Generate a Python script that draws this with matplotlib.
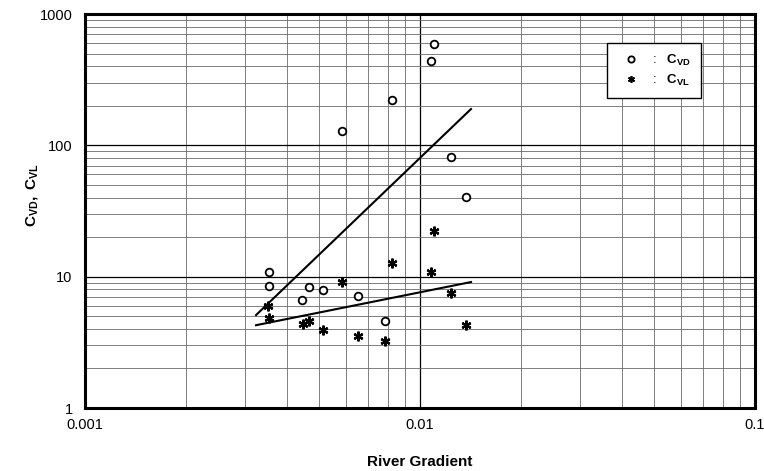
import matplotlib
matplotlib.use("Agg")
import matplotlib.pyplot as plt
from matplotlib.lines import Line2D
from matplotlib.ticker import LogLocator, FixedLocator, FixedFormatter, NullFormatter

plt.rcParams['font.family'] = ['Liberation Sans', 'DejaVu Sans']
plt.rcParams['mathtext.fontset'] = 'custom'
plt.rcParams['mathtext.rm'] = 'Liberation Sans'
plt.rcParams['mathtext.it'] = 'Liberation Sans'
plt.rcParams['mathtext.bf'] = 'Liberation Sans:bold'

# Datos
grad_vd = [0.01101, 0.01079, 0.00824, 0.00585, 0.01239, 0.01371, 0.00354,
           0.00354, 0.00467, 0.00513, 0.00445, 0.00653, 0.00787]
c_vd = [590, 438, 221, 128, 81.5, 40.4, 10.8, 8.47, 8.34, 7.9, 6.64, 7.1, 4.59]

grad_vl = [0.01101, 0.00824, 0.01079, 0.00585, 0.01239, 0.00352, 0.00354,
           0.00448, 0.00467, 0.00513, 0.00653, 0.00787, 0.01371]
c_vl = [22.2, 12.7, 10.8, 9.1, 7.5, 5.97, 4.84, 4.36, 4.6, 3.92, 3.53, 3.24, 4.27]

# Rectas de ajuste (extremos)
fit_x = [0.00324, 0.0142]
fit_vd = [5.1, 189]
fit_vl = [4.27, 9.1]

x_ticks = [0.001, 0.01, 0.1]
x_labels = ['0.001', '0.01', '0.1']
y_ticks = [1, 10, 100, 1000]
y_labels = ['1', '10', '100', '1000']

fig = plt.figure(figsize=(7.64, 4.71), dpi=100)
ax = fig.add_axes([85 / 764, 1 - 408 / 471, 670 / 764, 394 / 471])
ax.set_xscale('log')
ax.set_yscale('log')
ax.set_xlim(0.001, 0.1)
ax.set_ylim(1, 1000)

# Rejilla tipo papel log-log
ax.grid(which='major', color='black', lw=0.9)
ax.grid(which='minor', color='#6a6a6a', lw=0.6)
ax.set_axisbelow(True)

ax.plot(grad_vd, c_vd, ls='none', marker='o', mfc='white', mec='black',
        mew=1.3, ms=5.5)
ax.plot(grad_vl, c_vl, ls='none', marker=(6, 2, 0), color='black',
        mew=1.6, ms=7)
ax.plot(fit_x, fit_vd, color='black', lw=1.5)
ax.plot(fit_x, fit_vl, color='black', lw=1.5)

ax.xaxis.set_major_locator(FixedLocator(x_ticks))
ax.xaxis.set_major_formatter(FixedFormatter(x_labels))
ax.yaxis.set_major_locator(FixedLocator(y_ticks))
ax.yaxis.set_major_formatter(FixedFormatter(y_labels))
ax.xaxis.set_minor_locator(LogLocator(base=10, subs=range(2, 10)))
ax.yaxis.set_minor_locator(LogLocator(base=10, subs=range(2, 10)))
ax.xaxis.set_minor_formatter(NullFormatter())
ax.yaxis.set_minor_formatter(NullFormatter())
ax.tick_params(which='both', length=0)
ax.tick_params(axis='x', pad=7, labelsize=10.5)
ax.tick_params(axis='y', pad=9, labelsize=10.5)

for s in ax.spines.values():
    s.set_linewidth(2.2)
    s.set_color('black')

ax.set_xlabel('River Gradient', fontsize=11, fontweight='bold', labelpad=17)
ax.set_ylabel(r'$\mathbf{C_{VD},\ C_{VL}}$', fontsize=11, labelpad=14)
ax.yaxis.set_label_coords(-0.067, 0.54)

handles = [
    Line2D([], [], ls='none', marker='o', mfc='white', mec='black', mew=1.3, ms=4.5),
    Line2D([], [], ls='none', marker=(6, 2, 0), color='black', mew=1.2, ms=5),
]
leg = ax.legend(handles, [r':   $\mathbf{C_{VD}}$', r':   $\mathbf{C_{VL}}$'],
                loc='upper left', bbox_to_anchor=(0.779, 0.926),
                fancybox=False, framealpha=1, edgecolor='black',
                fontsize=9.5, handlelength=2.2, handletextpad=0.5,
                borderpad=0.75, labelspacing=0.35, borderaxespad=0)
leg.get_frame().set_linewidth(1.0)

fig.savefig('out.png', dpi=100)
